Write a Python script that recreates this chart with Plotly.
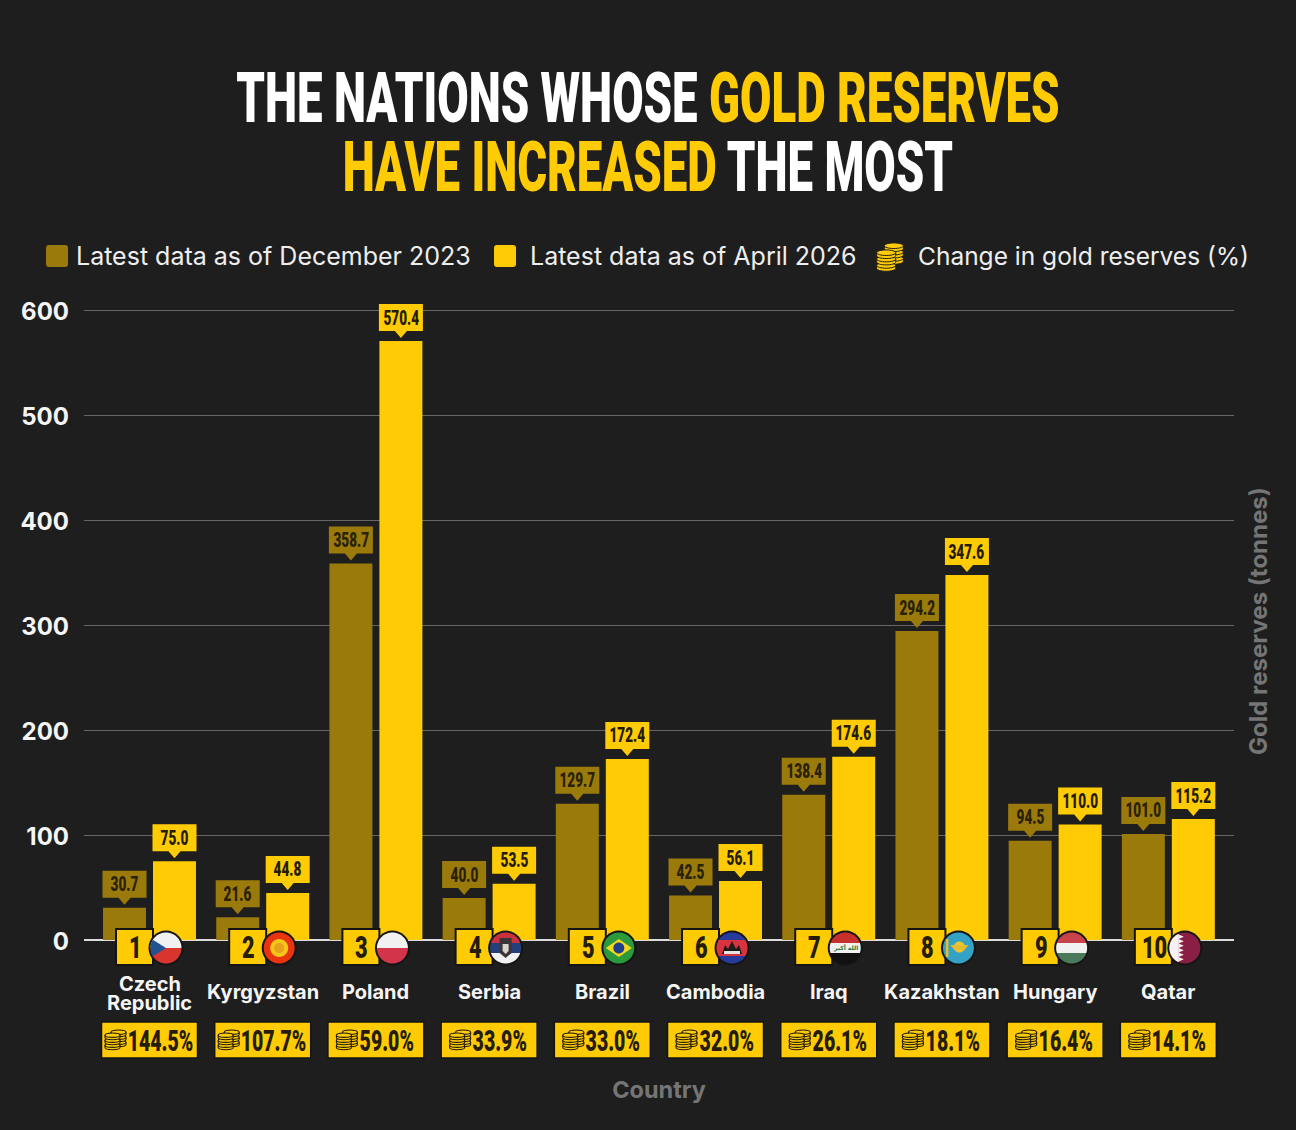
import numpy as np
import plotly.graph_objects as go

COUNTRIES = ["Czech\nRepublic", "Kyrgyzstan", "Poland", "Serbia", "Brazil",
             "Cambodia", "Iraq", "Kazakhstan", "Hungary", "Qatar"]
RANKS = ["1", "2", "3", "4", "5", "6", "7", "8", "9", "10"]
DEC_2023 = [30.7, 21.6, 358.7, 40.0, 129.7, 42.5, 138.4, 294.2, 94.5, 101.0]
APR_2026 = [75.0, 44.8, 570.4, 53.5, 172.4, 56.1, 174.6, 347.6, 110.0, 115.2]
CHANGE = ["144.5%", "107.7%", "59.0%", "33.9%", "33.0%",
          "32.0%", "26.1%", "18.1%", "16.4%", "14.1%"]
Y_TICKS = [0, 100, 200, 300, 400, 500, 600]

BG = "#1e1e1e"
GOLD = "#ffcb05"
DARK_GOLD = "#9b7a0c"
INK = "#241d0a"
CLEAR = "rgba(0,0,0,0)"
POSTER = "Roboto"  # squeezed sideways in POST_SCRIPT to get the poster look
INTER = "Inter"

# Layout in pixels of the 1296x1130 page
CAT_PX = 113.2
BAR_OFFSET = 25 / CAT_PX
PLOT_LEFT, PLOT_WIDTH, PLOT_BOTTOM, PLOT_HEIGHT = 84, 1150, 1070, 775
shapes = []
annotations = []

# No page margin, and narrow all poster text around its own centre
POST_SCRIPT = """
document.body.style.margin = '0';
document.querySelectorAll('text').forEach(function (t) {
    if (!t.style.fontFamily.includes('Roboto')) { return; }
    var size = parseFloat(t.style.fontSize);
    var k = size >= 50 ? 0.651 : (size == 30 ? 0.65 : 0.68);
    var b = t.getBBox();
    var c = b.x + b.width / 2;
    var old = t.getAttribute('transform') || '';
    t.setAttribute('transform', old + ' translate(' + c + ',0) scale(' + k + ',1) translate(' + (-c) + ',0)');
});
"""


def page_x(px):
    return (px - PLOT_LEFT) / PLOT_WIDTH


def page_y(px):
    return (PLOT_BOTTOM - px) / PLOT_HEIGHT


def px_shape(path, x, y, fill, line=None, width=0, xref="x", yref="y"):
    """Path given in pixels around a data (or paper) anchor, y pointing up"""
    shapes.append(dict(type="path", path=path, xref=xref, yref=yref,
                       xsizemode="pixel", ysizemode="pixel", xanchor=x, yanchor=y,
                       fillcolor=fill, layer="above",
                       line=dict(color=line or CLEAR, width=width)))


def poly_path(points):
    return "M" + "L".join(f"{a:.2f},{b:.2f}" for a, b in points) + "Z"


def rect_path(x0, y0, x1, y1):
    return poly_path([(x0, y0), (x1, y0), (x1, y1), (x0, y1)])


def round_rect_path(x0, y0, x1, y1, r):
    return (f"M{x0 + r},{y0}L{x1 - r},{y0}Q{x1},{y0} {x1},{y0 + r}L{x1},{y1 - r}Q{x1},{y1} {x1 - r},{y1}"
            f"L{x0 + r},{y1}Q{x0},{y1} {x0},{y1 - r}L{x0},{y0 + r}Q{x0},{y0} {x0 + r},{y0}Z")


def ellipse_path(cx, cy, rx, ry):
    k = 0.5523
    return (f"M{cx - rx},{cy}C{cx - rx},{cy + k * ry} {cx - k * rx},{cy + ry} {cx},{cy + ry}"
            f"C{cx + k * rx},{cy + ry} {cx + rx},{cy + k * ry} {cx + rx},{cy}"
            f"C{cx + rx},{cy - k * ry} {cx + k * rx},{cy - ry} {cx},{cy - ry}"
            f"C{cx - k * rx},{cy - ry} {cx - rx},{cy - k * ry} {cx - rx},{cy}Z")


def can_path(cx, cy, rx, ry, h):
    """Outline of one coin: top of the ellipse, rim, bottom of the ellipse"""
    k = 0.5523
    return (f"M{cx - rx},{cy}C{cx - rx},{cy + k * ry} {cx - k * rx},{cy + ry} {cx},{cy + ry}"
            f"C{cx + k * rx},{cy + ry} {cx + rx},{cy + k * ry} {cx + rx},{cy}"
            f"L{cx + rx},{cy - h}C{cx + rx},{cy - h - k * ry} {cx + k * rx},{cy - h - ry} {cx},{cy - h - ry}"
            f"C{cx - k * rx},{cy - h - ry} {cx - rx},{cy - h - k * ry} {cx - rx},{cy - h}Z")


def low_arc(cx, cy, rx, ry):
    k = 0.5523
    return (f"M{cx - rx},{cy}C{cx - rx},{cy - k * ry} {cx - k * rx},{cy - ry} {cx},{cy - ry}"
            f"C{cx + k * rx},{cy - ry} {cx + rx},{cy - k * ry} {cx + rx},{cy}")


def draw_coins(x, y, dx, dy, fill, line, width, xref="x", yref="y", zoom=1.0, lift=3.0):
    """Three coins behind three coins, the front stack topped at dy + 4.8"""
    rx, ry, h, step = 7.5 * zoom, 2.2 * zoom, 2.4 * zoom, 5 * zoom
    for cx, top in ((dx + 3 * zoom, dy + (4.8 + lift) * zoom), (dx - 3 * zoom, dy + 4.8 * zoom)):
        for i in range(2, -1, -1):
            cy = top - i * step
            px_shape(can_path(cx, cy, rx, ry, h), x, y, fill, line, width, xref, yref)
            px_shape(low_arc(cx, cy, rx, ry), x, y, CLEAR, line, width, xref, yref)


def disc(r=15.5, cuts=()):
    """Polygon for a flag disc, cut by half planes a*x + b*y <= c"""
    angles = np.linspace(0, 2 * np.pi, 72, endpoint=False)
    points = [(r * np.cos(t), r * np.sin(t)) for t in angles]
    for a, b, c in cuts:
        kept = []
        for i, p in enumerate(points):
            q = points[(i + 1) % len(points)]
            dp = a * p[0] + b * p[1] - c
            dq = a * q[0] + b * q[1] - c
            if dp <= 0:
                kept.append(p)
            if dp * dq < 0:
                t = dp / (dp - dq)
                kept.append((p[0] + t * (q[0] - p[0]), p[1] + t * (q[1] - p[1])))
        points = kept
    return points


def draw_flag(name, x):
    # flag sits to the right of the rank box, just below the zero line
    cx, cy = 16.5, -8

    def poly(points, fill):
        px_shape(poly_path([(a + cx, b + cy) for a, b in points]), x, 0, fill)

    def band(top, bottom, fill):
        poly(disc(cuts=[(0, 1, top), (0, -1, -bottom)]), fill)

    def dot(dx, dy, r, fill):
        px_shape(ellipse_path(cx + dx, cy + dy, r, r), x, 0, fill)

    dot(0, 0, 17.5, "#141414")
    if name.startswith("Czech"):
        band(16, 0, "#f1f1f1")
        band(0, -16, "#d7352d")
        poly(disc(cuts=[(0.62, 1, 0), (0.62, -1, 0)]), "#22528f")
    elif name == "Kyrgyzstan":
        dot(0, 0, 15.5, "#e8340f")
        dot(0, 0, 9, "#f6c51a")
        dot(0, 0, 5, "#e8a01a")
    elif name == "Poland":
        band(16, 0, "#f1f1f1")
        band(0, -16, "#d2344a")
    elif name == "Serbia":
        band(16, 5, "#c8323c")
        band(5, -5, "#24407c")
        band(-5, -16, "#f1f1f1")
        poly([(-6, 10), (6, 10), (6, -5), (0, -10), (-6, -5)], "#3a3438")
        poly([(-3, 4), (3, 4), (3, -3), (0, -6), (-3, -3)], "#d9d4cf")
    elif name == "Brazil":
        dot(0, 0, 15.5, "#2a9a3c")
        poly([(-13, 0), (0, 9), (13, 0), (0, -9)], "#f4d81c")
        dot(0, 0, 5.5, "#1f3f8c")
    elif name == "Cambodia":
        band(16, 8, "#283a9c")
        band(8, -8, "#d8333f")
        band(-8, -16, "#283a9c")
        poly([(-10, -6), (-7, 3), (-4, -1), (0, 7), (4, -1), (7, 3), (10, -6)], "#1b1b1b")
        poly([(-8, -6), (-8, -3), (8, -3), (8, -6)], "#e9e4e4")
    elif name == "Iraq":
        band(16, 5, "#c8302e")
        band(5, -5, "#f1f1f1")
        band(-5, -16, "#111111")
    elif name == "Kazakhstan":
        dot(0, 0, 15.5, "#34a2c4")
        dot(1, 1, 5.5, "#f0c62a")
        poly([(-8, 3), (10, 3), (6, -2), (-4, -2)], "#e3bd2e")
        poly([(-12.5, 9), (-10, 9), (-10, -9), (-12.5, -9)], "#e0bd35")
    elif name == "Hungary":
        band(16, 5, "#c9434a")
        band(5, -5, "#f1f1f1")
        band(-5, -16, "#4a7a5a")
    elif name == "Qatar":
        dot(0, 0, 15.5, "#8a1f45")
        poly(disc(cuts=[(1, 0, -6)]), "#f5f1f1")
        for t in np.arange(-13.5, 11, 4.5):
            poly([(-6.2, t), (-1, t + 2.2), (-6.2, t + 4.5)], "#f5f1f1")


fig = go.Figure()
x_pos = list(range(len(COUNTRIES)))
fig.add_trace(go.Bar(x=x_pos, y=DEC_2023, name="Latest data as of December 2023",
                     marker=dict(color=DARK_GOLD, line_width=0)))
fig.add_trace(go.Bar(x=x_pos, y=APR_2026, name="Latest data as of April 2026",
                     marker=dict(color=GOLD, line_width=0)))

# Value callouts
CALLOUT = [(-22, 10), (-22, 37), (22, 37), (22, 10), (6, 10), (0, 3), (-6, 10)]
for i in x_pos:
    for values, shift_x, fill, ink in ((DEC_2023, -BAR_OFFSET, DARK_GOLD, "#2a2208"),
                                       (APR_2026, BAR_OFFSET, GOLD, INK)):
        px_shape(poly_path(CALLOUT), i + shift_x, values[i], fill)
        annotations.append(dict(x=i + shift_x, y=values[i], xref="x", yref="y", yshift=23.5,
                                text=f"{values[i]:.1f}", showarrow=False, yanchor="middle",
                                font=dict(family=POSTER, size=20, color=ink, weight=900)))

# Rank boxes, flags, country names, change boxes
for i in x_pos:
    px_shape(rect_path(-33.5, 11, 3.5, -25), i, 0, GOLD, "#141414", 2)
    draw_flag(COUNTRIES[i], i)
    annotations.append(dict(x=i, y=0, xref="x", yref="y", xshift=-14, yshift=-7,
                            text=RANKS[i], showarrow=False, yanchor="middle",
                            font=dict(family=POSTER, size=32, color=INK, weight=900)))
    lines = COUNTRIES[i].split("\n")
    shifts = [-44, -63] if len(lines) == 2 else [-52]
    for line, dy in zip(lines, shifts):
        annotations.append(dict(x=i, y=0, xref="x", yref="y", yshift=dy, text=line,
                                showarrow=False, yanchor="middle",
                                font=dict(family=INTER, size=20, color="#f5f5f5", weight=700)))
    px_shape(rect_path(-48, -82, 48, -118), i, 0, GOLD, "#141414", 1.5)
    annotations.append(dict(x=i, y=0, xref="x", yref="y", xshift=11, yshift=-100,
                            text=CHANGE[i], showarrow=False, yanchor="middle",
                            font=dict(family=POSTER, size=30, color=INK, weight=900)))
    draw_coins(i, 0, -34 if len(CHANGE[i]) > 5 else -29, -100, GOLD, INK, 1.1)

# Iraq's flag inscription
annotations.append(dict(x=6, y=0, xref="x", yref="y", xshift=16.5, yshift=-8, text="الله أكبر",
                        showarrow=False, yanchor="middle",
                        font=dict(family="DejaVu Sans", size=6, color="#1f7a3a", weight=700)))

# Legend drawn by hand so the coin entry can sit beside the two swatches
LEGEND = [("Latest data as of December 2023", 74, DARK_GOLD, 57, 25),
          ("Latest data as of April 2026", 528, GOLD, 505, 25)]
for text, left, color, swatch_x, size in LEGEND:
    px_shape(round_rect_path(-11, -11, 11, 11, 3), page_x(swatch_x), page_y(256), color,
             xref="paper", yref="paper")
    annotations.append(dict(x=page_x(left), y=page_y(256), xref="paper", yref="paper",
                            xanchor="left", yanchor="middle", text=text, showarrow=False,
                            font=dict(family=INTER, size=size, color="#eeeeee")))
annotations.append(dict(x=page_x(916), y=page_y(256), xref="paper", yref="paper",
                        xanchor="left", yanchor="middle", text="Change in gold reserves (%)",
                        showarrow=False, font=dict(family=INTER, size=24.5, color="#eeeeee")))
draw_coins(page_x(890), page_y(256), 0, -2.8, GOLD, BG, 1, "paper", "paper", 1.27, 5.5)

# Right hand axis title
annotations.append(dict(x=page_x(1258), y=page_y(621), xref="paper", yref="paper",
                        xanchor="center", yanchor="middle",
                        text="Gold reserves (tonnes)", textangle=-90, showarrow=False,
                        font=dict(family=INTER, size=24, color="#757575", weight=700)))

# Second title line: a title's own line spacing is too loose for this poster font
annotations.append(dict(x=page_x(648), y=page_y(167), xref="paper", yref="paper",
                        xanchor="center", yanchor="middle", showarrow=False,
                        text=f'<span style="color:{GOLD}">HAVE INCREASED</span> THE MOST',
                        font=dict(family=POSTER, size=70, color="#ffffff", weight=900)))

fig.update_layout(
    width=1296, height=1130,
    paper_bgcolor=BG, plot_bgcolor=BG,
    margin=dict(l=84, r=62, t=295, b=60, autoexpand=False),
    barmode="group", bargap=0.117, bargroupgap=0.14,
    showlegend=False,
    title=dict(text=f'THE NATIONS WHOSE <span style="color:{GOLD}">GOLD RESERVES</span>',
               x=0.5, xref="container", xanchor="center", y=1 - 98 / 1130, yanchor="middle",
               font=dict(family=POSTER, size=70, color="#ffffff", weight=900)),
    xaxis=dict(range=[-0.5786, 9.58], showgrid=False, zeroline=False, showticklabels=False,
               ticks="", showline=False,
               title=dict(text="Country", standoff=11,
                          font=dict(family=INTER, size=23.5, color="#757575", weight=700))),
    yaxis=dict(range=[-123.8, 614.3], tickvals=Y_TICKS, ticks="", ticklabelstandoff=14,
               ticklabelshift=2,
               tickfont=dict(family=INTER, size=24, color="#f5f5f5", weight=700),
               gridcolor="#666666", gridwidth=1, zeroline=True, zerolinecolor="#dddddd",
               zerolinewidth=1.5, showline=False),
    shapes=shapes, annotations=annotations,
)

fig.write_html("out.html", post_script=POST_SCRIPT, config={"displayModeBar": False})
